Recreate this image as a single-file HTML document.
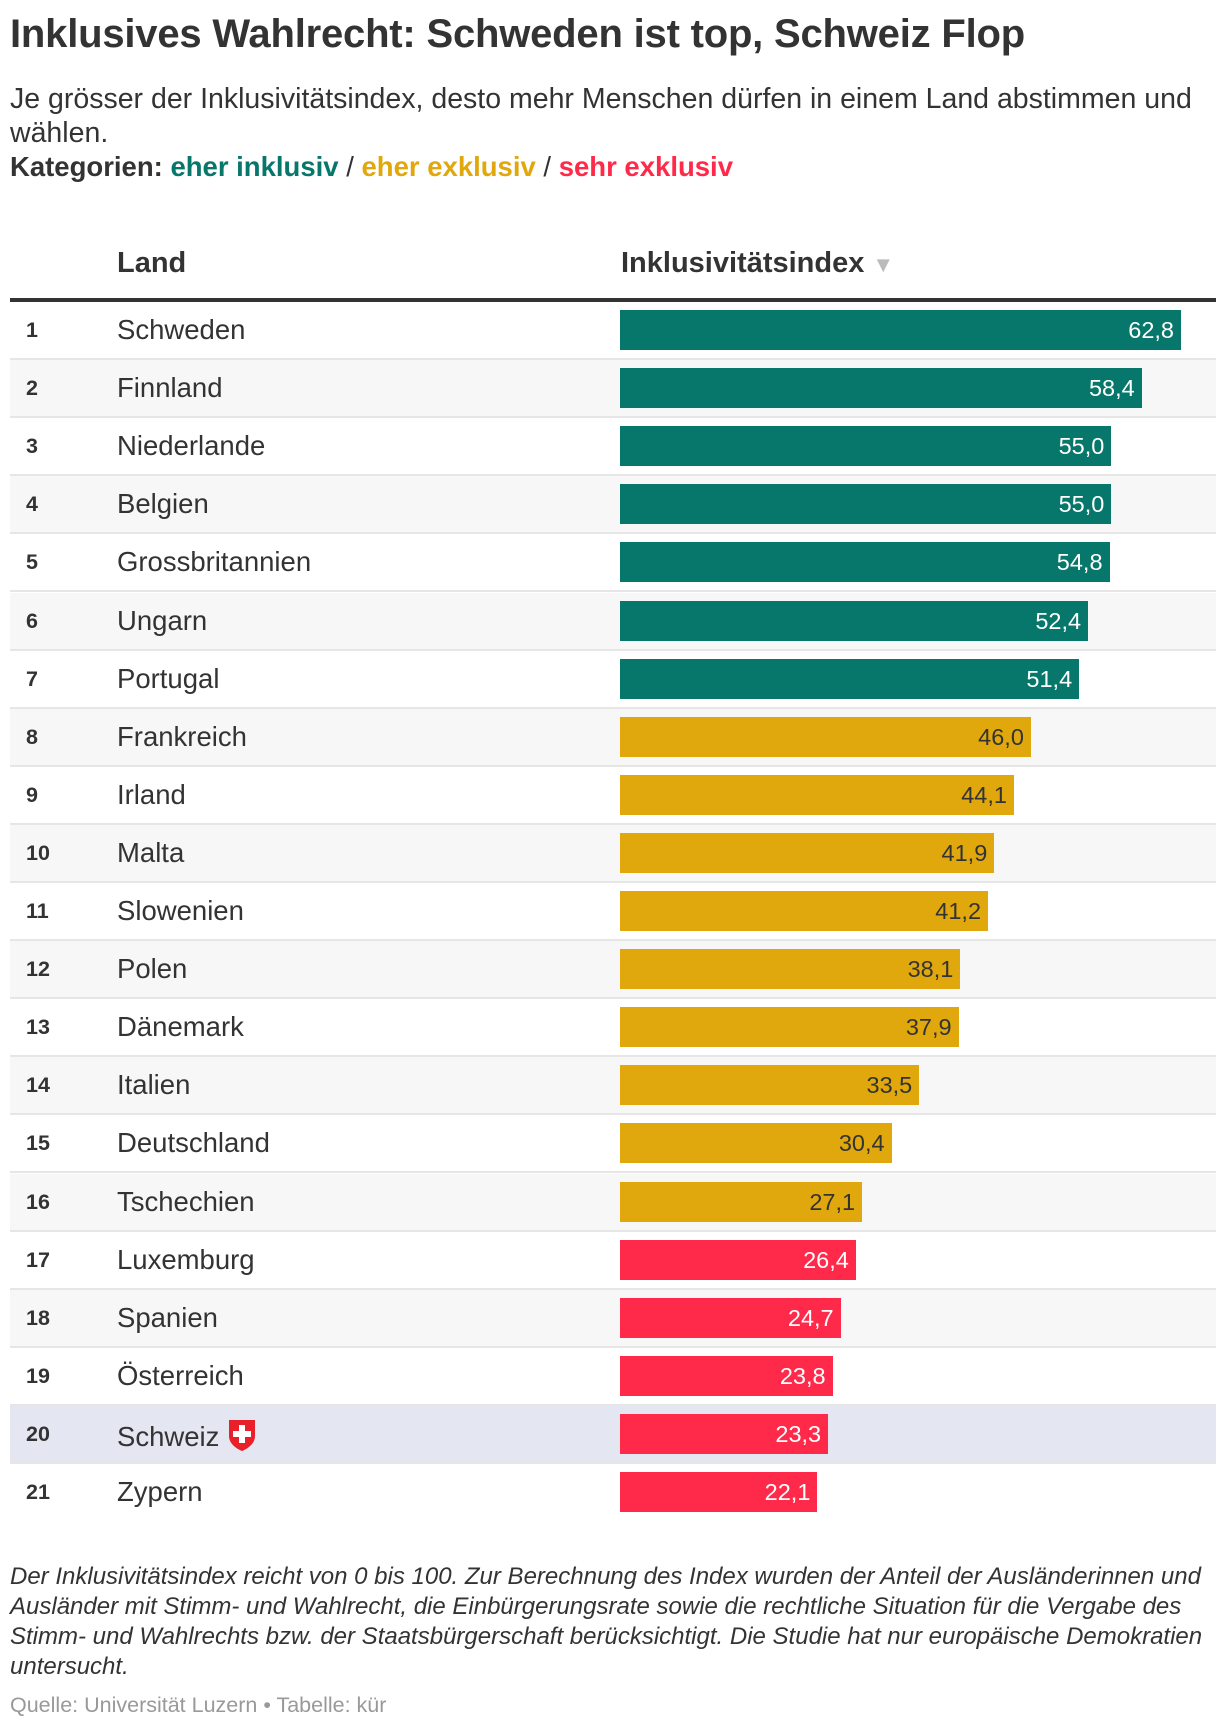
<!DOCTYPE html>
<html><head><meta charset="utf-8">
<style>
body{margin:0;width:1220px;height:1730px;background:#fff;font-family:"Liberation Sans",sans-serif;color:#333;position:relative;overflow:hidden}
.abs{position:absolute;white-space:nowrap}
#title{left:10px;top:12px;font-size:40px;font-weight:bold;letter-spacing:-0.2px}
#sub{left:10px;top:82px;font-size:28.5px;line-height:34px;white-space:normal;width:1200px}
#cats{left:10px;top:151px;font-size:27.5px;font-weight:bold}
.hdr{top:247px;font-size:29px;font-weight:bold}
#rule{left:10px;top:298px;width:1206px;height:4px;background:#333}
.row{position:absolute;left:10px;width:1206px;border-bottom:2px solid #e6e6e6;box-sizing:border-box}
.rank{position:absolute;left:16px;font-size:21.5px;font-weight:bold}
.cty{position:absolute;left:107px;font-size:27.5px}
.bar{position:absolute;left:610px;height:40px}
.val{position:absolute;right:7px;top:7px;font-size:23.5px}
#note{left:10px;top:1562px;font-size:24px;font-style:italic;line-height:30px;white-space:normal;width:1210px}
#src{left:10px;top:1693px;font-size:21.5px;color:#999}
</style></head><body>
<div class="abs" id="title">Inklusives Wahlrecht: Schweden ist top, Schweiz Flop</div>
<div class="abs" id="sub">Je grösser der Inklusivitätsindex, desto mehr Menschen dürfen in einem Land abstimmen und wählen.</div>
<div class="abs" id="cats">Kategorien: <span style="color:#06776a">eher inklusiv</span> <span style="font-weight:normal">/</span> <span style="color:#e0a80d">eher exklusiv</span> <span style="font-weight:normal">/</span> <span style="color:#ff2a4a">sehr exklusiv</span></div>
<div class="abs hdr" style="left:117px">Land</div>
<div class="abs hdr" style="left:621px">Inklusivitätsindex <span style="color:#bbb;font-size:22px">▼</span></div>
<div class="abs" id="rule"></div>
<div id="rows"></div>
<div class="abs" id="note">Der Inklusivitätsindex reicht von 0 bis 100. Zur Berechnung des Index wurden der Anteil der Ausländerinnen und Ausländer mit Stimm- und Wahlrecht, die Einbürgerungsrate sowie die rechtliche Situation für die Vergabe des Stimm- und Wahlrechts bzw. der Staatsbürgerschaft berücksichtigt. Die Studie hat nur europäische Demokratien untersucht.</div>
<div class="abs" id="src">Quelle: Universität Luzern • Tabelle: kür</div>
<script>
const countries=["Schweden","Finnland","Niederlande","Belgien","Grossbritannien","Ungarn","Portugal","Frankreich","Irland","Malta","Slowenien","Polen","Dänemark","Italien","Deutschland","Tschechien","Luxemburg","Spanien","Österreich","Schweiz","Zypern"];
const values=[62.8,58.4,55.0,55.0,54.8,52.4,51.4,46.0,44.1,41.9,41.2,38.1,37.9,33.5,30.4,27.1,26.4,24.7,23.8,23.3,22.1];
const categories=["inkl","inkl","inkl","inkl","inkl","inkl","inkl","exkl","exkl","exkl","exkl","exkl","exkl","exkl","exkl","exkl","sehr","sehr","sehr","sehr","sehr"];
const colors={inkl:"#06776a",exkl:"#e0a80d",sehr:"#ff2a4a"};
const top0=302,rowH=58.1,pxPer=561/62.8;
const wx=v=>v*pxPer;
const wrap=document.getElementById('rows');
countries.forEach((c,i)=>{
  const r=document.createElement('div');
  
  
  r.className='row';
  r.style.top=(top0+i*rowH)+'px';r.style.height=rowH+'px';
  if(i===countries.length-1)r.style.borderBottom='none';
  r.style.background=c==="Schweiz"?"#e4e7f1":(i%2===1?"#f7f7f7":"#fff");
  const rk=document.createElement('div');
  
  
  rk.className='rank';rk.textContent=i+1;rk.style.top='16px';
  const ct=document.createElement('div');
  
  
  ct.className='cty';ct.style.top='12px';
  ct.innerHTML=c+(c==="Schweiz"?' <svg width="30" height="34" viewBox="0 0 30 34" style="vertical-align:-6px"><path d="M2 2H28V18C28 26 20 31 15 33C10 31 2 26 2 18Z" fill="#e8202a"/><rect x="12" y="7" width="6" height="18" fill="#fff"/><rect x="6" y="13" width="18" height="6" fill="#fff"/></svg>':'');
  const b=document.createElement('div');
  
  
  b.className='bar';b.style.top='8px';
  b.style.width=wx(values[i])+'px';b.style.background=colors[categories[i]];
  const v=document.createElement('div');
  
  
  v.className='val';v.textContent=values[i].toFixed(1).replace('.',',');
  v.style.color=categories[i]==="exkl"?"#333":"#fff";
  b.appendChild(v);
  r.appendChild(rk);r.appendChild(ct);r.appendChild(b);wrap.appendChild(r);
});
</script>
</body></html>
